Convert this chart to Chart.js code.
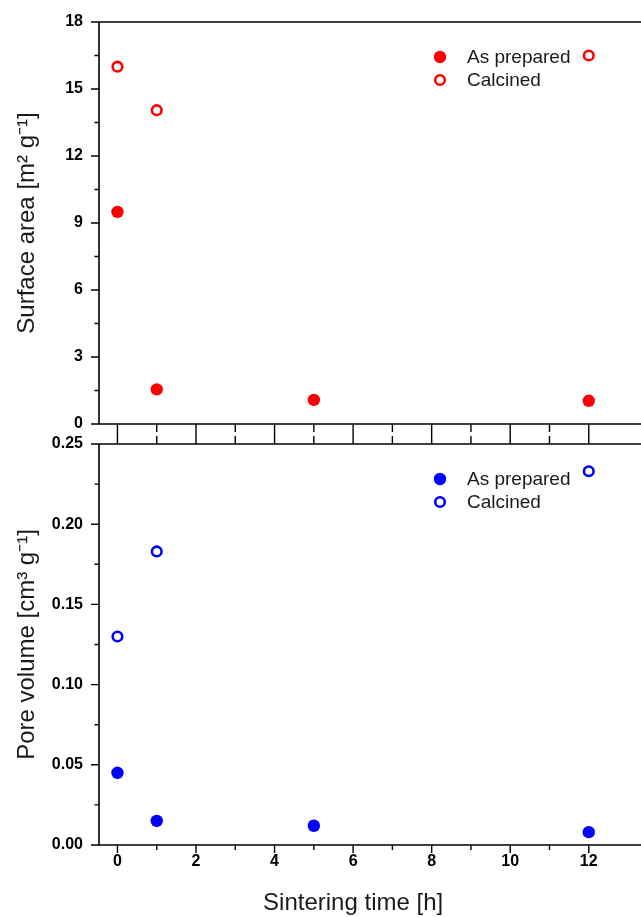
<!DOCTYPE html>
<html>
<head>
<meta charset="utf-8">
<script src="https://cdn.jsdelivr.net/npm/chart.js@4.4.1/dist/chart.umd.min.js"></script>
<style>
  html, body { margin: 0; padding: 0; background: #fff; overflow: hidden; }
  #wrap { position: relative; width: 641px; height: 917px; }
  #areaBox { position: absolute; left: 0; top: 0; }
  #poreBox { position: absolute; left: 0; top: 434px; }
</style>
</head>
<body>
<div id="wrap">
  <div id="areaBox"><canvas id="areaChart" width="641" height="434"></canvas></div>
  <div id="poreBox"><canvas id="poreChart" width="641" height="483"></canvas></div>
</div>
<script>
// Sintering times (h)
const sinterTimes = [0, 1, 5, 12];
const calcinedTimes = [0, 1, 12];

// Surface area (m2/g)
const areaPrepared = [9.5, 1.55, 1.08, 1.04];
const areaCalcined = [16.0, 14.05, 16.5];

// Pore volume (cm3/g)
const porePrepared = [0.045, 0.015, 0.012, 0.008];
const poreCalcined = [0.130, 0.183, 0.233];

// Axis ticks
const timeTicks = [0, 2, 4, 6, 8, 10, 12];
const timeMinor = [1, 3, 5, 7, 9, 11];
const areaTicks = [0, 3, 6, 9, 12, 15, 18];
const areaMinor = [1.5, 4.5, 7.5, 10.5, 13.5, 16.5];
const poreTicks = [0, 0.05, 0.10, 0.15, 0.20, 0.25];
const poreMinor = [0.025, 0.075, 0.125, 0.175, 0.225];

const FONT = '"Liberation Sans", Arial, sans-serif';
const RED = '#ff0000';
const BLUE = '#0000ff';
const X_MIN = -0.47;
const X_MAX = 13.33;

// Frame lines, outward tick marks, in-plot legend and bottom axis title
const framePlugin = {
  id: 'frame',
  afterDatasetsDraw(chart, args, opts) {
    const { ctx, chartArea: a, scales: { x, y } } = chart;
    ctx.save();
    ctx.strokeStyle = '#000';
    ctx.lineWidth = 1.6;
    ctx.beginPath();
    ctx.moveTo(a.right + 2, a.top);
    ctx.lineTo(a.left, a.top);
    ctx.lineTo(a.left, a.bottom);
    ctx.lineTo(a.right + 2, a.bottom);
    ctx.stroke();

    const tick = (px, py, dx, dy) => { ctx.moveTo(px, py); ctx.lineTo(px + dx, py + dy); };
    ctx.lineWidth = 1.4;
    ctx.beginPath();
    opts.yMajor.forEach(v => tick(a.left, y.getPixelForValue(v), -8, 0));
    opts.yMinor.forEach(v => tick(a.left, y.getPixelForValue(v), -4.5, 0));
    opts.xEdges.forEach(e => {
      const base = e.side === 'top' ? a.top : a.bottom;
      const dir = e.side === 'top' ? -1 : 1;
      timeTicks.forEach(v => tick(x.getPixelForValue(v), base, 0, dir * e.major));
      timeMinor.forEach(v => tick(x.getPixelForValue(v), base, 0, dir * e.minor));
    });
    ctx.stroke();

    // legend
    ctx.font = '19px ' + FONT;
    ctx.textBaseline = 'middle';
    ctx.textAlign = 'left';
    chart.data.datasets.forEach((ds, i) => {
      const ly = a.top + 35 + i * 23;
      ctx.beginPath();
      ctx.arc(440, ly, ds.pointRadius, 0, Math.PI * 2);
      ctx.fillStyle = ds.pointBackgroundColor;
      ctx.fill();
      if (ds.pointBorderWidth) {
        ctx.lineWidth = ds.pointBorderWidth;
        ctx.strokeStyle = ds.pointBorderColor;
        ctx.stroke();
      }
      ctx.fillStyle = '#1a1a1a';
      ctx.fillText(ds.label, 467, ly + 1);
    });

    if (opts.xTitle) {
      ctx.font = '24px ' + FONT;
      ctx.textAlign = 'center';
      ctx.fillStyle = '#1a1a1a';
      ctx.fillText(opts.xTitle, x.getPixelForValue(6), a.bottom + 58);
    }
    ctx.restore();
  }
};

function seriesSet(label, xs, ys, color, open) {
  return {
    label: label,
    data: xs.map((t, i) => ({ x: t, y: ys[i] })),
    showLine: false,
    clip: false,
    pointStyle: 'circle',
    pointRadius: open ? 4.8 : 6.2,
    pointHoverRadius: open ? 4.8 : 6.2,
    pointBackgroundColor: open ? '#fff' : color,
    pointBorderColor: color,
    pointBorderWidth: open ? 2.6 : 0,
    borderColor: color,
    backgroundColor: color
  };
}

// scales keep no automatic edge padding, the layout padding alone places the plot box
function noPadding(s) {
  s.paddingTop = 0;
  s.paddingBottom = 0;
  s.paddingLeft = 0;
  s.paddingRight = 0;
}

function yAxis(min, max, major, title, fmt) {
  return {
    type: 'linear',
    min: min,
    max: max,
    afterBuildTicks: s => { s.ticks = major.map(v => ({ value: v })); },
    afterFit: s => { s.width = 99; noPadding(s); },
    grid: { display: false, drawTicks: false },
    border: { display: false },
    ticks: { padding: 16, color: '#000', font: { family: FONT, size: 16, weight: 'bold' }, callback: fmt },
    title: { display: true, text: title, color: '#1a1a1a', font: { family: FONT, size: 24 }, padding: { top: 13, bottom: 0 } }
  };
}

function xAxis(showLabels, height) {
  return {
    type: 'linear',
    min: X_MIN,
    max: X_MAX,
    afterBuildTicks: s => { s.ticks = timeTicks.map(v => ({ value: v })); },
    afterFit: s => { s.height = height; noPadding(s); },
    grid: { display: false, drawTicks: false },
    border: { display: false },
    ticks: { display: showLabels, padding: 7, color: '#000', font: { family: FONT, size: 16, weight: 'bold' } }
  };
}

Chart.defaults.font.family = FONT;

new Chart(document.getElementById('areaChart'), {
  type: 'scatter',
  data: {
    datasets: [
      seriesSet('As prepared', sinterTimes, areaPrepared, RED, false),
      seriesSet('Calcined', calcinedTimes, areaCalcined, RED, true)
    ]
  },
  options: {
    responsive: false,
    animation: false,
    layout: { autoPadding: false, padding: { top: 22, left: 0, right: 0, bottom: 0 } },
    scales: {
      x: xAxis(false, 10),
      y: yAxis(0, 18, areaTicks, 'Surface area [m² g⁻¹]', v => String(v))
    },
    plugins: {
      legend: { display: false },
      tooltip: { enabled: false },
      frame: { yMajor: areaTicks, yMinor: areaMinor, xEdges: [{ side: 'bottom', major: 10, minor: 8 }] }
    }
  },
  plugins: [framePlugin]
});

new Chart(document.getElementById('poreChart'), {
  type: 'scatter',
  data: {
    datasets: [
      seriesSet('As prepared', sinterTimes, porePrepared, BLUE, false),
      seriesSet('Calcined', calcinedTimes, poreCalcined, BLUE, true)
    ]
  },
  options: {
    responsive: false,
    animation: false,
    layout: { autoPadding: false, padding: { top: 10, left: 0, right: 0, bottom: 0 } },
    scales: {
      x: xAxis(true, 72),
      y: yAxis(0, 0.25, poreTicks, 'Pore volume [cm³ g⁻¹]', v => v.toFixed(2))
    },
    plugins: {
      legend: { display: false },
      tooltip: { enabled: false },
      frame: {
        yMajor: poreTicks, yMinor: poreMinor,
        xEdges: [{ side: 'top', major: 10, minor: 8 }, { side: 'bottom', major: 8, minor: 5 }],
        xTitle: 'Sintering time [h]'
      }
    }
  },
  plugins: [framePlugin]
});
</script>
</body>
</html>
